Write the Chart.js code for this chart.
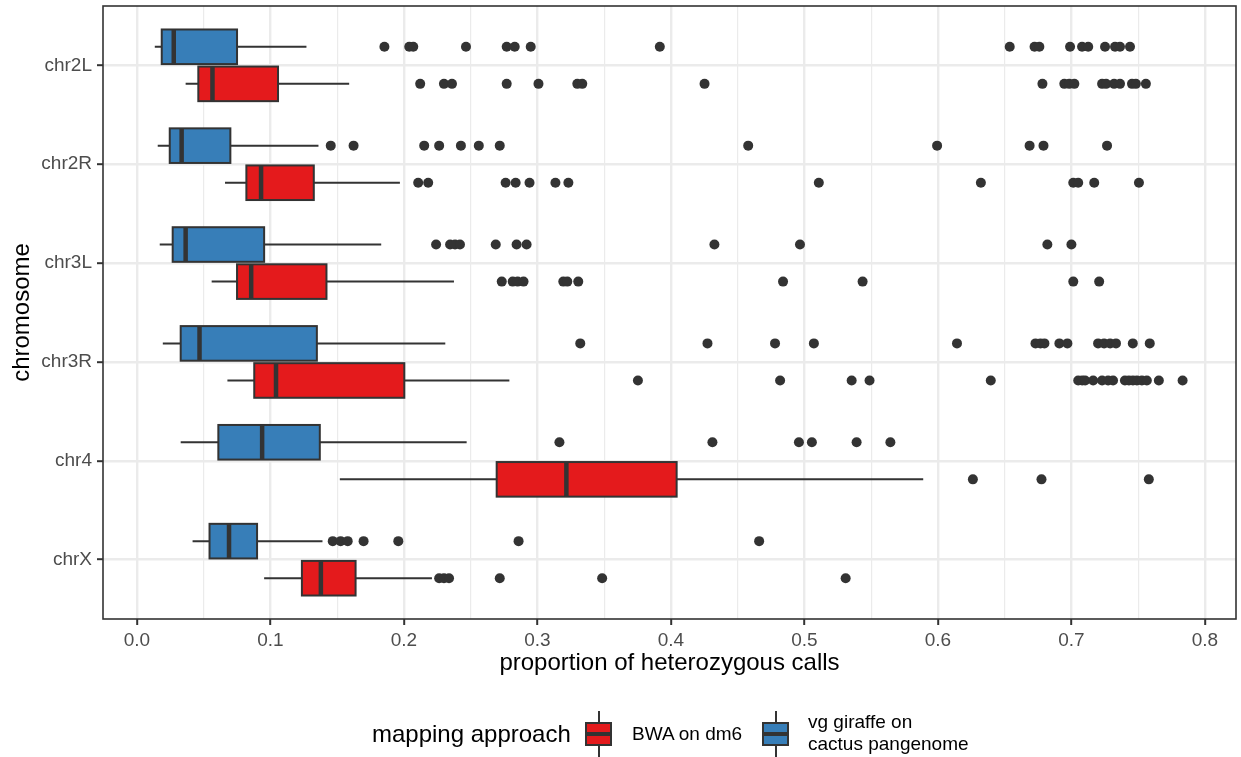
<!DOCTYPE html>
<html>
<head>
<meta charset="utf-8">
<script src="https://cdn.jsdelivr.net/npm/chart.js@4/dist/chart.umd.min.js"></script>
<style>
  body { margin: 0; background: #fff; }
  #wrap { position: relative; width: 1241px; height: 757px; font-family: "Liberation Sans", Arial, sans-serif; }
  #chart { position: absolute; left: 0; top: 0; }
  .lg { position: absolute; color: #000; white-space: nowrap; }
  .lg-title { font-size: 24px; line-height: 28px; }
  .lg-label { font-size: 19px; line-height: 22px; }
  .key { position: absolute; width: 27px; height: 46px; }
  .key .whisker { position: absolute; left: 12.5px; top: 0; width: 2px; height: 46px; background: #333; }
  .key .box { position: absolute; left: 0; top: 11px; width: 23px; height: 20px; border: 2px solid #333; }
  .key .median { position: absolute; left: 0; top: 21px; width: 27px; height: 4px; background: #333; }
</style>
</head>
<body>
<div id="wrap">
  <canvas id="chart" width="1241" height="757"></canvas>
  <div class="lg lg-title" style="left:372px; top:720px;">mapping approach</div>
  <div class="key" style="left:585px; top:711px;">
    <div class="whisker"></div><div class="box" style="background:#E41A1C"></div><div class="median"></div>
  </div>
  <div class="lg lg-label" style="left:632px; top:723px;">BWA on dm6</div>
  <div class="key" style="left:762px; top:711px;">
    <div class="whisker"></div><div class="box" style="background:#377EB8"></div><div class="median"></div>
  </div>
  <div class="lg lg-label" style="left:808px; top:711px;">vg giraffe on<br>cactus pangenome</div>
</div>
<script>
// categorías (de arriba a abajo)
const chromosomes = ["chr2L", "chr2R", "chr3L", "chr3R", "chr4", "chrX"];

// BWA on dm6 (rojo): bigotes, cuartiles, mediana
const bwaLow = [0.0365, 0.066, 0.056, 0.0678, 0.152, 0.0953];
const bwaQ1 = [0.046, 0.082, 0.075, 0.0879, 0.2695, 0.1236];
const bwaMedian = [0.0566, 0.093, 0.0856, 0.1042, 0.3217, 0.1378];
const bwaQ3 = [0.1057, 0.1325, 0.142, 0.2003, 0.4043, 0.1638];
const bwaHigh = [0.159, 0.197, 0.2375, 0.279, 0.589, 0.221];
const bwaOutliers = [
  [0.2122, 0.230, 0.236, 0.277, 0.3008, 0.3299, 0.3336, 0.4252, 0.6783, 0.6947, 0.6984, 0.7022, 0.723, 0.726, 0.732, 0.7364, 0.7454, 0.7483, 0.7558],
  [0.2107, 0.2182, 0.2762, 0.2837, 0.2941, 0.3135, 0.3232, 0.5108, 0.6322, 0.7014, 0.7051, 0.7171, 0.7506],
  [0.2733, 0.2815, 0.2852, 0.2896, 0.3194, 0.3224, 0.3306, 0.484, 0.5436, 0.7014, 0.7208],
  [0.3753, 0.4818, 0.5354, 0.5488, 0.6396, 0.7051, 0.7081, 0.7103, 0.7163, 0.723, 0.7275, 0.7312, 0.7401, 0.7431, 0.7461, 0.7491, 0.7528, 0.7565, 0.7655, 0.7833],
  [0.6262, 0.6776, 0.758],
  [0.2264, 0.230, 0.2338, 0.2718, 0.3485, 0.5309],
];

// vg giraffe on cactus pangenome (azul)
const vgLow = [0.0134, 0.0156, 0.0171, 0.0194, 0.0328, 0.0417];
const vgQ1 = [0.0186, 0.0246, 0.0268, 0.0328, 0.061, 0.0544];
const vgMedian = [0.0276, 0.0335, 0.0365, 0.0469, 0.0938, 0.069];
const vgQ3 = [0.075, 0.070, 0.0953, 0.1348, 0.137, 0.090];
const vgHigh = [0.127, 0.136, 0.183, 0.231, 0.247, 0.139];
const vgOutliers = [
  [0.1854, 0.204, 0.207, 0.2465, 0.277, 0.283, 0.295, 0.3917, 0.6538, 0.6724, 0.676, 0.699, 0.708, 0.7126, 0.7252, 0.7327, 0.7364, 0.7439],
  [0.1452, 0.1623, 0.2152, 0.2264, 0.2427, 0.2561, 0.2718, 0.4579, 0.5994, 0.6687, 0.6791, 0.7267],
  [0.2241, 0.2346, 0.2383, 0.242, 0.2688, 0.2844, 0.2919, 0.4326, 0.4967, 0.682, 0.70],
  [0.3321, 0.4274, 0.478, 0.5071, 0.6143, 0.6731, 0.6768, 0.6798, 0.691, 0.697, 0.72, 0.7245, 0.729, 0.7334, 0.746, 0.7587],
  [0.3165, 0.4311, 0.4959, 0.5056, 0.5391, 0.5644],
  [0.1467, 0.1526, 0.1579, 0.1698, 0.1958, 0.2859, 0.4661],
];

const dodge = 0.1875;
const boxWidth = 0.35;

const groups = [
  { color: "#377EB8", offset: -dodge, low: vgLow, q1: vgQ1, med: vgMedian, q3: vgQ3, high: vgHigh, out: vgOutliers },
  { color: "#E41A1C", offset: dodge, low: bwaLow, q1: bwaQ1, med: bwaMedian, q3: bwaQ3, high: bwaHigh, out: bwaOutliers },
];

const isMajor = (v) => Math.abs(v * 10 - Math.round(v * 10)) < 1e-6;

// Dibujar cajas, bigotes y medianas con las escalas del gráfico
const boxPlugin = {
  id: "boxes",
  beforeDatasetsDraw(chart) {
    const { ctx, scales: { x, y } } = chart;
    ctx.save();
    groups.forEach((g) => {
      chromosomes.forEach((c, i) => {
        const yc = y.getPixelForValue(i + 1 + g.offset);
        const yt = y.getPixelForValue(i + 1 + g.offset - boxWidth / 2);
        const yb = y.getPixelForValue(i + 1 + g.offset + boxWidth / 2);
        const xl = x.getPixelForValue(g.low[i]);
        const x1 = x.getPixelForValue(g.q1[i]);
        const xm = x.getPixelForValue(g.med[i]);
        const x3 = x.getPixelForValue(g.q3[i]);
        const xh = x.getPixelForValue(g.high[i]);

        ctx.strokeStyle = "#333333";
        ctx.lineWidth = 2;
        ctx.beginPath();
        ctx.moveTo(xl, yc); ctx.lineTo(x1, yc);
        ctx.moveTo(x3, yc); ctx.lineTo(xh, yc);
        ctx.stroke();

        ctx.fillStyle = g.color;
        ctx.fillRect(x1, yt, x3 - x1, yb - yt);
        ctx.strokeRect(x1, yt, x3 - x1, yb - yt);

        ctx.lineWidth = 4.5;
        ctx.beginPath();
        ctx.moveTo(xm, yt); ctx.lineTo(xm, yb);
        ctx.stroke();
      });
    });
    ctx.restore();
  },
  afterDraw(chart) {
    const { ctx, chartArea: a } = chart;
    ctx.save();
    ctx.strokeStyle = "#333333";
    ctx.lineWidth = 1.6;
    ctx.strokeRect(a.left, a.top, a.right - a.left, a.bottom - a.top);
    ctx.restore();
  },
};

Chart.defaults.font.family = "'Liberation Sans', Arial, sans-serif";

const outlierSets = groups.map((g) => ({
  data: g.out.flatMap((vals, i) => vals.map((v) => ({ x: v, y: i + 1 + g.offset }))),
  pointRadius: 5,
  pointBackgroundColor: "#333333",
  pointBorderWidth: 0,
  showLine: false,
}));

// quitar el relleno que Chart.js reserva para las etiquetas extremas
const noPad = (s) => { s.paddingTop = 0; s.paddingBottom = 0; s.paddingLeft = 0; s.paddingRight = 0; };

new Chart(document.getElementById("chart"), {
  type: "scatter",
  data: { datasets: outlierSets },
  options: {
    responsive: false,
    animation: false,
    events: [],
    layout: { padding: { left: 0, right: 2, top: 6, bottom: 76 } },
    plugins: { legend: { display: false }, tooltip: { enabled: false } },
    scales: {
      x: {
        type: "linear",
        min: -0.0254,
        max: 0.8233,
        border: { display: false },
        grid: {
          color: "#EBEBEB",
          lineWidth: (c) => (isMajor(c.tick.value) ? 2.4 : 1.2),
          tickColor: (c) => (isMajor(c.tick.value) ? "#333333" : "rgba(0,0,0,0)"),
          tickLength: 6,
          tickWidth: 2,
        },
        ticks: {
          stepSize: 0.05,
          includeBounds: false,
          autoSkip: false,
          maxRotation: 0,
          color: "#4D4D4D",
          font: { size: 19 },
          padding: 4,
          callback: (v) => (isMajor(v) ? v.toFixed(1) : ""),
        },
        title: {
          display: true,
          text: "proportion of heterozygous calls",
          color: "#000",
          font: { size: 24 },
          padding: { top: 0, bottom: 3 },
        },
        afterFit: (s) => { s.height = 62; noPad(s); },
      },
      y: {
        type: "linear",
        min: 0.4,
        max: 6.6,
        reverse: true,
        border: { display: false },
        grid: { color: "#EBEBEB", lineWidth: 2.4, tickColor: "#333333", tickLength: 6, tickWidth: 2 },
        ticks: {
          stepSize: 1,
          includeBounds: false,
          autoSkip: false,
          color: "#4D4D4D",
          font: { size: 19 },
          padding: 5,
          callback: (v) => chromosomes[v - 1],
        },
        title: {
          display: true,
          text: "chromosome",
          color: "#000",
          font: { size: 24 },
          padding: { top: 8, bottom: 0 },
        },
        afterFit: (s) => { s.width = 103; noPad(s); },
      },
    },
  },
  plugins: [boxPlugin],
});
</script>
</body>
</html>
